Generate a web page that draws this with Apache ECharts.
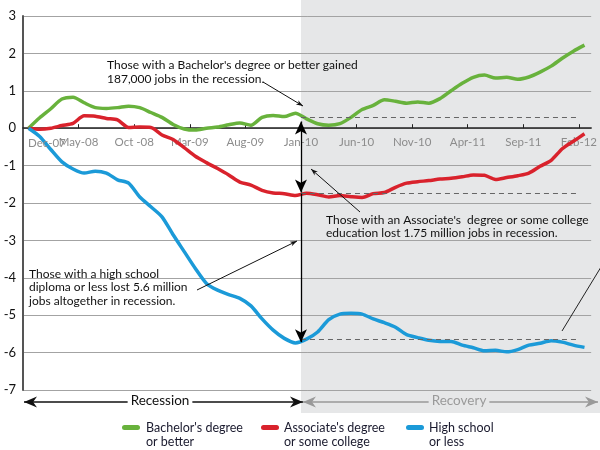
<!DOCTYPE html>
<html><head><meta charset="utf-8">
<script src="https://cdn.jsdelivr.net/npm/echarts@6/dist/echarts.min.js"></script>
<style>html,body{margin:0;padding:0;background:#fff}#c{width:600px;height:450px}</style>
</head><body><div id="c"></div>
<script>
// ---- data (millions of jobs, change since Dec-07; monthly Dec-07 .. Feb-12) ----
const tickLabels = ['Dec-07','May-08','Oct -08','Mar-09','Aug-09','Jan-10','Jun-10','Nov-10','Apr-11','Sep-11','Feb-12'];
const bachelors = [0,0.28,0.52,0.78,0.83,0.68,0.55,0.53,0.55,0.59,0.55,0.42,0.29,0.1,-0.02,-0.05,0,0.03,0.09,0.14,0.08,0.29,0.34,0.31,0.4,0.25,0.12,0.08,0.12,0.29,0.5,0.61,0.76,0.72,0.67,0.7,0.67,0.79,1.0,1.2,1.36,1.42,1.34,1.36,1.31,1.37,1.5,1.66,1.87,2.06,2.22];
const associates = [0,-0.03,0,0.07,0.13,0.33,0.32,0.26,0.22,0.02,0.03,0.02,-0.18,-0.3,-0.52,-0.75,-0.92,-1.08,-1.25,-1.44,-1.52,-1.66,-1.73,-1.75,-1.8,-1.74,-1.78,-1.84,-1.8,-1.83,-1.85,-1.75,-1.72,-1.58,-1.47,-1.43,-1.4,-1.36,-1.34,-1.3,-1.25,-1.26,-1.37,-1.32,-1.27,-1.2,-1.02,-0.86,-0.55,-0.35,-0.15];
const highSchool = [0,-0.22,-0.57,-0.9,-1.09,-1.2,-1.15,-1.2,-1.38,-1.47,-1.84,-2.1,-2.37,-2.85,-3.3,-3.75,-4.15,-4.33,-4.45,-4.55,-4.75,-5.1,-5.4,-5.62,-5.74,-5.64,-5.45,-5.12,-4.97,-4.95,-4.97,-5.1,-5.2,-5.32,-5.52,-5.6,-5.67,-5.7,-5.7,-5.8,-5.87,-5.95,-5.94,-5.98,-5.92,-5.8,-5.75,-5.68,-5.72,-5.8,-5.86];
const seriesNames = ["Bachelor's degree\nor better", "Associate's degree\nor some college", "High school\nor less"];
const recessionLevels = [0.3, -1.75, -5.65];
const recessionEndMonth = 25;   // Jan-10
const lastMonth = 49.8;

const colors = ['#68b23c', '#d9222c', '#1b9ad8'];
const FONT = "Lato,'Liberation Sans',sans-serif";

const chart = echarts.init(document.getElementById('c'), null, {renderer:'canvas'});
const toXY = arr => arr.map((v,i)=>[i+0.5, v]);

function dashed(level){ return [{coord:[recessionEndMonth, level]}, {coord:[lastMonth, level]}]; }
function arrowSeg(a,b){ return [{coord:[recessionEndMonth,a], symbol:'none', lineStyle:{type:'solid', color:'#000', width:1.3}}, {coord:[recessionEndMonth,b], symbol:'arrow', symbolSize:[9,13]}]; }

const series = [bachelors, associates, highSchool].map((d,k)=>({
  name: seriesNames[k], type:'line', data: toXY(d), showSymbol:false, smooth:0.25,
  lineStyle:{width:3.5, color:colors[k]}, itemStyle:{color:colors[k]}, z: 3,
  markLine:{ silent:true, symbol:['none','none'], label:{show:false}, animation:false,
    lineStyle:{type:[5,4], color:'#666', width:1.2},
    data:[ dashed(recessionLevels[k]),
           k===0 ? arrowSeg(0, 0.18) : (k===1 ? arrowSeg(0, -1.72) : arrowSeg(-1.75, -5.72)) ] }
}));

const xAxis = {type:'value', min:0, max:51.1, interval:5, position:'bottom', offset:0,
    axisLine:{onZero:false, lineStyle:{color:'#222', width:1.5}},
    axisTick:{show:true, inside:true, length:4, lineStyle:{color:'#222'}},
    axisLabel:{color:'#8c8c8c', fontSize:11.5, fontFamily:FONT, margin:8, showMaxLabel:false, showMinLabel:false, hideOverlap:false,
      formatter:(v)=> (Math.abs(v%5)<1e-6 && v>0 ? tickLabels[v/5] : '')},
    splitLine:{show:false}};

chart.setOption({
  animation:false,
  grid:{left:23, right:0, top:16, bottom:60},
  xAxis: xAxis,
  yAxis:{type:'value', min:-7, max:3, interval:1,
    axisLine:{show:true, lineStyle:{color:'#555', width:2}},
    axisTick:{show:false},
    axisLabel:{color:'#111', fontSize:13, fontFamily:FONT, margin:7},
    splitLine:{lineStyle:{color:'#a3a3a3', width:1}}},
  series: series
});

// move the month axis up onto the zero line
const pZero = chart.convertToPixel({gridIndex:0}, [0, 0]);
const pBottom = chart.convertToPixel({gridIndex:0}, [0, -7]);
chart.setOption({xAxis:{offset: -(pBottom[1]-pZero[1])}});

// ---- decorations (background band, annotations, legend) ----
const pJan = chart.convertToPixel({gridIndex:0}, [recessionEndMonth, 0]);
function arrow(x1,y1,x2,y2,color,w,hl,hw,both){
  const els=[{type:'line', shape:{x1,y1,x2,y2}, style:{stroke:color, lineWidth:w}, z:50}];
  const head=(ax,ay,bx,by)=>{ // tip at bx,by
    const dx=bx-ax, dy=by-ay, L=Math.hypot(dx,dy), ux=dx/L, uy=dy/L;
    const bxp=bx-ux*hl, byp=by-uy*hl, mx=bx-ux*hl*0.7, my=by-uy*hl*0.7;
    return {type:'polygon', shape:{points:[[bx,by],[bxp-uy*hw/2, byp+ux*hw/2],[mx,my],[bxp+uy*hw/2, byp-ux*hw/2]]}, style:{fill:color}, z:51};
  };
  els.push(head(x1,y1,x2,y2));
  if(both) els.push(head(x2,y2,x1,y1));
  return els;
}
function txt(x,y,text,opts){
  return Object.assign({type:'text', x, y, z:60, style:Object.assign({text, font:'12px '+FONT, fill:'#111', lineHeight:14, verticalAlign:'top'}, opts||{})});
}
const g = [];
g.push({type:'rect', shape:{x:pJan[0], y:0, width:600-pJan[0], height:413}, style:{fill:'#e6e7e8'}, z:-100, zlevel:-1});
// first month label, shifted right of the y axis
g.push(txt(pZero[0]+5, pZero[1]+8, tickLabels[0], {font:'11.5px '+FONT, fill:'#8c8c8c'}));
// annotations
g.push(txt(107,58,"Those with a Bachelor's degree or better gained\n187,000 jobs in the recession."));
g.push(...arrow(263,82,303,106,'#111',1,7,5));
g.push(txt(326,213,"Those with an Associate's  degree or some college\neducation lost 1.75 million jobs in recession.", {lineHeight:13.5}));
g.push(...arrow(360,212,311,169,'#111',1,7,5));
g.push(txt(29,267,"Those with a high school\ndiploma or less lost 5.6 million\njobs altogether in recession.", {lineHeight:13.5}));
g.push(...arrow(197,290,297,241,'#111',1,7,5));
g.push({type:'line', shape:{x1:601,y1:267,x2:562,y2:331}, style:{stroke:'#222', lineWidth:1}, z:50});
// recession / recovery arrows
g.push(...arrow(24,402,pJan[0]+2,402,'#111',1.5,13,11,true));
g.push(...arrow(pJan[0]+2,402,598,402,'#999',1.5,13,11,true));
g.push(txt(160,394,'Recession',{font:'13.5px '+FONT, fill:'#111', align:'center', backgroundColor:'#fff', padding:[0,3]}));
g.push(txt(459,394,'Recovery',{font:'13.5px '+FONT, fill:'#9a9a9a', align:'center', backgroundColor:'#e6e7e8', padding:[0,3]}));
// legend
const legX = [[122,146],[261,284],[406,429]];
seriesNames.forEach((n,k)=>{
  g.push({type:'rect', shape:{x:legX[k][0], y:425, width:18, height:5, r:2.5}, style:{fill:colors[k]}, z:60});
  g.push(txt(legX[k][1],421,n,{font:'12.5px '+FONT, fill:'#1a1a2e', lineHeight:14}));
});
chart.setOption({graphic:{elements:g}});
</script></body></html>
